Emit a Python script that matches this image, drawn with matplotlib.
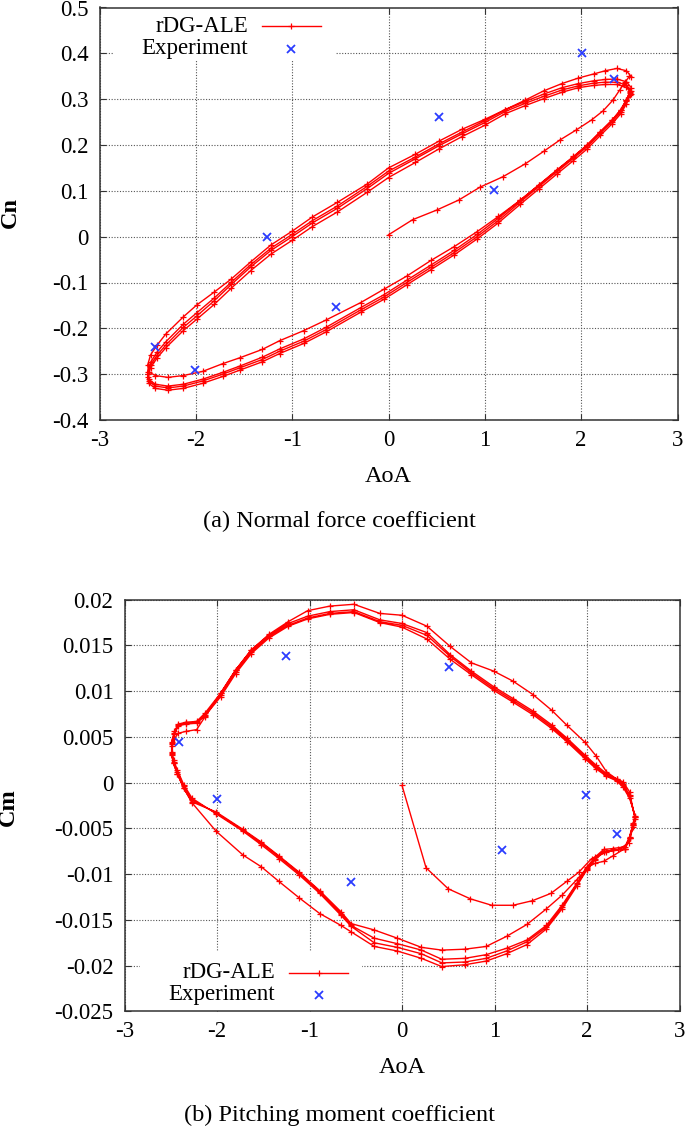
import matplotlib
matplotlib.use('Agg')
import matplotlib.pyplot as plt
from matplotlib.patches import Rectangle
from matplotlib.ticker import FuncFormatter
import numpy as np

plt.rcParams['font.family'] = ['Liberation Serif', 'DejaVu Serif']
plt.rcParams['axes.unicode_minus'] = False

# ---------------- (a) normal force coefficient ----------------
# start-up part: AoA from 0 up to the first maximum
cn_start_aoa = [0.00, 0.25, 0.50, 0.73, 0.95, 1.19, 1.42, 1.61, 1.78, 1.95, 2.11, 2.23, 2.33, 2.40, 2.46, 2.50]
cn_start = [0.004, 0.037, 0.058, 0.080, 0.108, 0.131, 0.159, 0.186, 0.211, 0.233, 0.255, 0.275, 0.298, 0.320, 0.338, 0.350]

# pitch-down branch (AoA decreasing)
cn_down_aoa = [2.52, 2.47, 2.37, 2.25, 2.13, 1.97, 1.80, 1.61, 1.42, 1.21, 1.00, 0.76, 0.52, 0.28, 0.00,
               -0.22, -0.53, -0.79, -1.00, -1.22, -1.43, -1.63, -1.81, -1.99, -2.13, -2.31, -2.40, -2.47, -2.50]
cn_down_1 = [0.349, 0.362, 0.367, 0.362, 0.355, 0.346, 0.334, 0.318, 0.298, 0.277, 0.256, 0.234, 0.208, 0.180, 0.150,
             0.115, 0.075, 0.043, 0.012, -0.018, -0.055, -0.092, -0.121, -0.149, -0.175, -0.212, -0.236, -0.258, -0.280]
cn_down_2 = [0.325, 0.338, 0.344, 0.343, 0.340, 0.334, 0.325, 0.311, 0.295, 0.277, 0.253, 0.228, 0.202, 0.174, 0.143,
             0.110, 0.067, 0.035, 0.005, -0.025, -0.061, -0.099, -0.134, -0.166, -0.191, -0.229, -0.251, -0.274, -0.295]
cn_down_3 = [0.317, 0.331, 0.337, 0.337, 0.335, 0.329, 0.320, 0.306, 0.291, 0.273, 0.249, 0.224, 0.198, 0.170, 0.138,
             0.105, 0.062, 0.030, 0.000, -0.030, -0.066, -0.104, -0.140, -0.173, -0.198, -0.236, -0.258, -0.280, -0.300]
cn_down_4 = [0.312, 0.326, 0.332, 0.332, 0.330, 0.325, 0.315, 0.301, 0.286, 0.268, 0.243, 0.218, 0.191, 0.162, 0.129,
             0.097, 0.054, 0.022, -0.008, -0.038, -0.074, -0.112, -0.148, -0.180, -0.205, -0.242, -0.264, -0.286, -0.306]

# pitch-up branch (AoA increasing)
cn_up_aoa = [-2.49, -2.42, -2.29, -2.13, -1.93, -1.72, -1.54, -1.31, -1.13, -0.88, -0.65, -0.29, -0.05, 0.19,
             0.44, 0.68, 0.92, 1.14, 1.37, 1.56, 1.75, 1.92, 2.06, 2.20, 2.32, 2.41, 2.47, 2.51]
cn_up_1 = [-0.295, -0.303, -0.307, -0.303, -0.294, -0.277, -0.264, -0.246, -0.227, -0.205, -0.182, -0.144, -0.115, -0.086,
           -0.052, -0.022, 0.011, 0.044, 0.080, 0.112, 0.145, 0.174, 0.199, 0.229, 0.254, 0.277, 0.299, 0.318]
cn_up_2 = [-0.311, -0.322, -0.326, -0.322, -0.311, -0.296, -0.282, -0.263, -0.245, -0.223, -0.198, -0.155, -0.127, -0.095,
           -0.062, -0.030, 0.005, 0.040, 0.080, 0.113, 0.146, 0.175, 0.200, 0.229, 0.254, 0.276, 0.298, 0.316]
cn_up_3 = [-0.315, -0.326, -0.330, -0.326, -0.315, -0.300, -0.286, -0.268, -0.250, -0.228, -0.203, -0.160, -0.132, -0.100,
           -0.067, -0.035, 0.000, 0.035, 0.076, 0.109, 0.142, 0.171, 0.196, 0.226, 0.251, 0.273, 0.295, 0.313]
cn_up_4 = [-0.320, -0.331, -0.335, -0.331, -0.320, -0.305, -0.291, -0.273, -0.255, -0.233, -0.208, -0.165, -0.137, -0.105,
           -0.072, -0.040, -0.005, 0.030, 0.071, 0.104, 0.137, 0.166, 0.191, 0.221, 0.246, 0.268, 0.290, 0.309]

cn_exp_aoa = [-2.42, -2.01, -1.26, -0.55, 0.52, 1.09, 2.01, 2.34]
cn_exp = [-0.240, -0.291, -0.001, -0.153, 0.260, 0.101, 0.400, 0.344]

# ---------------- (b) pitching moment coefficient ----------------
cm_start_aoa = [0.00, 0.26, 0.50, 0.74, 0.97, 1.20, 1.41, 1.61, 1.78, 1.91, 2.05, 2.21, 2.34, 2.45, 2.50]
cm_start = [-0.0003, -0.0093, -0.0116, -0.0127, -0.0134, -0.0134, -0.0129, -0.0121, -0.0108, -0.0098, -0.0083,
            -0.0076, -0.0073, -0.0066, -0.0048]

cm_down_aoa = [2.52, 2.46, 2.39, 2.32, 2.21, 2.10, 1.98, 1.78, 1.62, 1.42, 1.20, 0.99, 0.75, 0.52, 0.27, 0.00,
               -0.24, -0.52, -0.78, -1.02, -1.23, -1.44, -1.63, -1.80, -1.96, -2.13, -2.22, -2.34, -2.42, -2.46,
               -2.49, -2.49, -2.47, -2.43, -2.36, -2.27]
cm_down_1 = [-0.0040, -0.0010, 0.0001, 0.0004, 0.0012, 0.0029, 0.0044, 0.0063, 0.0079, 0.0096, 0.0111, 0.0122,
             0.0131, 0.0149, 0.0171, 0.0183, 0.0185, 0.0195, 0.0193, 0.0188, 0.0176, 0.0162, 0.0145, 0.0123, 0.0098,
             0.0072, 0.0058, 0.0056, 0.0054, 0.0048, 0.0040, 0.0031, 0.0021, 0.0010, -0.0006, -0.0022]
cm_down_2 = [-0.0036, -0.0017, -0.0005, 0.0002, 0.0007, 0.0015, 0.0026, 0.0045, 0.0059, 0.0074, 0.0088, 0.0101,
             0.0118, 0.0135, 0.0157, 0.0170, 0.0175, 0.0186, 0.0184, 0.0179, 0.0171, 0.0158, 0.0141, 0.0119, 0.0094,
             0.0073, 0.0065, 0.0064, 0.0062, 0.0053, 0.0042, 0.0030, 0.0021, 0.0010, -0.0006, -0.0021]
cm_down_3 = [-0.0037, -0.0015, -0.0003, 0.0003, 0.0008, 0.0017, 0.0028, 0.0047, 0.0061, 0.0076, 0.0090, 0.0103,
             0.0120, 0.0138, 0.0161, 0.0172, 0.0176, 0.0187, 0.0185, 0.0180, 0.0172, 0.0160, 0.0143, 0.0121, 0.0096,
             0.0074, 0.0066, 0.0065, 0.0063, 0.0054, 0.0043, 0.0032, 0.0023, 0.0012, -0.0004, -0.0019]
cm_down_4 = [-0.0038, -0.0014, -0.0001, 0.0004, 0.0010, 0.0019, 0.0030, 0.0049, 0.0063, 0.0078, 0.0092, 0.0105,
             0.0122, 0.0140, 0.0164, 0.0174, 0.0178, 0.0189, 0.0187, 0.0182, 0.0174, 0.0161, 0.0145, 0.0123, 0.0098,
             0.0076, 0.0067, 0.0066, 0.0064, 0.0056, 0.0045, 0.0034, 0.0025, 0.0014, -0.0002, -0.0017]

cm_up_aoa = [-2.01, -1.72, -1.52, -1.33, -1.11, -0.89, -0.66, -0.55, -0.30, -0.05, 0.21, 0.43, 0.68, 0.91, 1.13,
             1.35, 1.56, 1.73, 1.89, 2.00, 2.09, 2.18, 2.28, 2.41, 2.46, 2.50]
cm_up_1 = [-0.0053, -0.0079, -0.0092, -0.0108, -0.0126, -0.0143, -0.0156, -0.0163, -0.0179, -0.0184, -0.0192,
           -0.0201, -0.0199, -0.0195, -0.0187, -0.0177, -0.0160, -0.0138, -0.0113, -0.0095, -0.0084, -0.0076,
           -0.0074, -0.0072, -0.0061, -0.0046]
cm_up_2 = [-0.0032, -0.0051, -0.0065, -0.0080, -0.0098, -0.0118, -0.0141, -0.0154, -0.0161, -0.0170, -0.0180,
           -0.0183, -0.0182, -0.0179, -0.0168, -0.0155, -0.0138, -0.0123, -0.0106, -0.0093, -0.0088, -0.0086,
           -0.0080, -0.0072, -0.0060, -0.0045]
cm_up_3 = [-0.0033, -0.0052, -0.0066, -0.0081, -0.0099, -0.0119, -0.0143, -0.0156, -0.0170, -0.0176, -0.0183,
           -0.0193, -0.0192, -0.0188, -0.0181, -0.0172, -0.0156, -0.0134, -0.0110, -0.0092, -0.0081, -0.0073,
           -0.0072, -0.0070, -0.0059, -0.0044]
cm_up_4 = [-0.0034, -0.0053, -0.0068, -0.0083, -0.0101, -0.0121, -0.0145, -0.0157, -0.0175, -0.0180, -0.0187,
           -0.0197, -0.0196, -0.0192, -0.0184, -0.0174, -0.0158, -0.0136, -0.0111, -0.0094, -0.0083, -0.0075,
           -0.0074, -0.0073, -0.0061, -0.0046]

cm_exp_aoa = [-2.41, -2.00, -1.25, -0.55, 0.51, 1.08, 1.99, 2.32]
cm_exp = [0.0044, -0.0018, 0.0138, -0.0109, 0.0126, -0.0074, -0.0013, -0.0056]

RED = '#ff0000'
BLUE = '#2a3cff'
FS = 16.5
LW, MS, MEW = 1.0, 5, 0.9


def join(start_x, start_y, down_x, downs, up_x, ups):
    xs, ys = list(start_x), list(start_y)
    for d, u in zip(downs, ups):
        xs += down_x + up_x
        ys += d + u
    return np.array(xs), np.array(ys)


def fmt(v, p):
    if abs(v) < 1e-12:
        v = 0
    return '%g' % round(v, 6)


def setup(ax, yticks):
    ax.set_xlim(-3, 3)
    ax.set_ylim(yticks[0], yticks[-1])
    ax.set_xticks(np.arange(-3, 4, 1))
    ax.set_yticks(yticks)
    ax.xaxis.set_major_formatter(FuncFormatter(fmt))
    ax.yaxis.set_major_formatter(FuncFormatter(fmt))
    ax.set_axisbelow(True)
    ax.grid(True, color='#555555', linestyle=(0, (1, 1.5)), linewidth=0.8)
    ax.tick_params(direction='in', top=True, right=True, length=4, width=0.8,
                   labelsize=FS, color='#333333')
    ax.tick_params(axis='y', pad=8)
    ax.tick_params(axis='x', pad=7)
    for s in ax.spines.values():
        s.set_color('#333333')
        s.set_linewidth(1.1)


def key(ax, box, x_text, y1, y2, x_line0, x_line1):
    ax.add_patch(Rectangle((box[0], box[1]), box[2], box[3], transform=ax.transAxes,
                           facecolor='white', edgecolor='none', zorder=1.5))
    ax.text(x_text, y1, 'rDG-ALE', transform=ax.transAxes, ha='right', va='center',
            fontsize=FS, zorder=3)
    ax.text(x_text, y2, 'Experiment', transform=ax.transAxes, ha='right', va='center',
            fontsize=FS, zorder=3)
    xm = (x_line0 + x_line1) / 2
    ax.plot([x_line0, x_line1], [y1, y1], transform=ax.transAxes, color=RED, lw=LW,
            clip_on=False, zorder=3)
    ax.plot([xm], [y1], transform=ax.transAxes, color=RED, marker='+', ms=MS, mew=MEW,
            clip_on=False, zorder=3)
    ax.plot([xm], [y2], transform=ax.transAxes, color=BLUE, marker='x', ms=6, mew=1.3,
            linestyle='none', clip_on=False, zorder=3)


fig = plt.figure(figsize=(6.85, 11.29), dpi=100)
W, H = 685.0, 1129.0

# top panel
ax1 = fig.add_axes([99.5 / W, 1 - 420 / H, 578 / W, 412.5 / H])
setup(ax1, np.round(np.arange(-0.4, 0.51, 0.1), 2))
x, y = join(cn_start_aoa, cn_start, cn_down_aoa, [cn_down_1, cn_down_2, cn_down_3, cn_down_4],
            cn_up_aoa, [cn_up_1, cn_up_2, cn_up_3, cn_up_4])
ax1.plot(x, y, color=RED, lw=LW, marker='+', ms=MS, mew=MEW, zorder=2)
ax1.plot(cn_exp_aoa, cn_exp, linestyle='none', color=BLUE, marker='x', ms=6, mew=1.3, zorder=2.5)
key(ax1, (0.025, 0.872, 0.385, 0.128), 0.257, 0.955, 0.900, 0.281, 0.383)
ax1.text(0.5, -0.137, 'AoA', transform=ax1.transAxes, ha='center', va='center', fontsize=FS + 1)
ax1.text(-0.155, 0.502, 'Cn', transform=ax1.transAxes, ha='center', va='center',
         rotation=90, fontsize=FS + 1, fontweight='bold')
fig.text(0.496, 1 - 521.7 / H, '(a) Normal force coefficient', ha='center', va='center', fontsize=17.5)

# bottom panel
ax2 = fig.add_axes([124.5 / W, 1 - 1011.4 / H, 555 / W, 411.7 / H])
setup(ax2, np.round(np.arange(-0.025, 0.0201, 0.005), 3))
x, y = join(cm_start_aoa, cm_start, cm_down_aoa, [cm_down_1, cm_down_2, cm_down_3, cm_down_4],
            cm_up_aoa, [cm_up_1, cm_up_2, cm_up_3, cm_up_4])
ax2.plot(x, y, color=RED, lw=LW, marker='+', ms=MS, mew=MEW, zorder=2)
ax2.plot(cm_exp_aoa, cm_exp, linestyle='none', color=BLUE, marker='x', ms=6, mew=1.3, zorder=2.5)
key(ax2, (0.028, 0.0, 0.40, 0.145), 0.271, 0.0933, 0.040, 0.297, 0.403)
ax2.text(0.5, -0.137, 'AoA', transform=ax2.transAxes, ha='center', va='center', fontsize=FS + 1)
ax2.text(-0.209, 0.496, 'Cm', transform=ax2.transAxes, ha='center', va='center',
         rotation=90, fontsize=FS + 1, fontweight='bold')
fig.text(0.496, 1 - 1115 / H, '(b) Pitching moment coefficient', ha='center', va='center', fontsize=17.5)

fig.savefig('out.png', dpi=100)
